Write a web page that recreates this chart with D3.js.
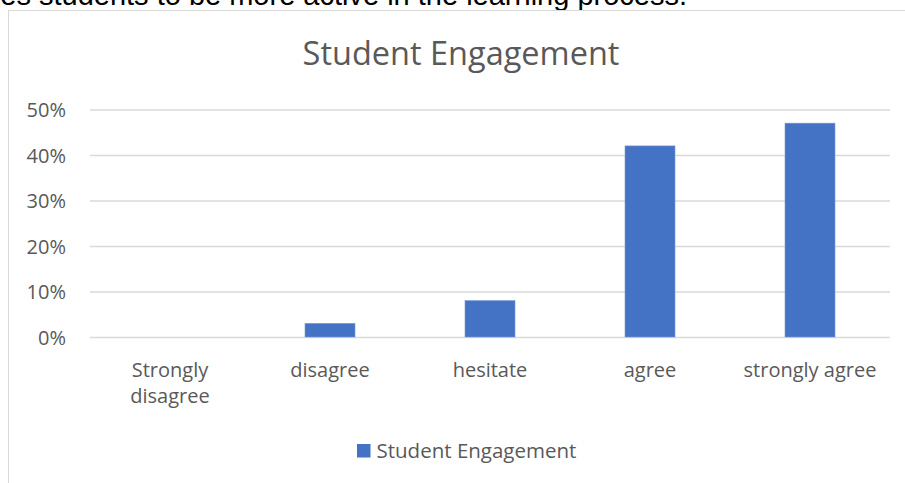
<!DOCTYPE html>
<html>
<head>
<meta charset="utf-8">
<script src="https://cdn.jsdelivr.net/npm/d3@7"></script>
<style>
  html, body { margin: 0; padding: 0; background: #fff; }
  svg { display: block; }
</style>
</head>
<body>
<svg id="chart" width="905" height="483"></svg>
<script>
const categories = ["Strongly disagree", "disagree", "hesitate", "agree", "strongly agree"];
const values = [0.00, 0.03, 0.08, 0.42, 0.47];
const yTicks = [0, 0.1, 0.2, 0.3, 0.4, 0.5];
const seriesName = "Student Engagement";
const chartTitle = "Student Engagement";
const precedingText = "es students to be more active in the learning process.";

const svg = d3.select("#chart");
const W = 905, H = 483;
const font = "'Open Sans', 'Noto Sans', sans-serif";
const grey = "#595959";
const barColor = "#4472c4";

// preceding document text (cut at the top, as in the source page)
svg.append("text")
  .attr("x", 687).attr("y", 5)
  .attr("text-anchor", "end")
  .attr("font-family", "'Liberation Sans', Arial, sans-serif")
  .attr("font-size", 29)
  .attr("fill", "#000")
  .text(precedingText);

// chart frame
svg.append("rect")
  .attr("x", 8.5).attr("y", 10.5)
  .attr("width", W + 10).attr("height", H + 10)
  .attr("fill", "#fff")
  .attr("stroke", "#d9d9d9").attr("stroke-width", 1);

// title
svg.append("text")
  .attr("x", 461).attr("y", 65)
  .attr("text-anchor", "middle")
  .attr("font-family", font).attr("font-size", 32.5)
  .attr("fill", grey)
  .text(chartTitle);

const x = d3.scaleBand()
  .domain(categories)
  .range([90, 890])
  .paddingInner(0.6875)
  .paddingOuter(0.34375);

const y = d3.scaleLinear().domain([0, 0.5]).range([337, 109.5]);

// gridlines + tick labels
const yAxis = d3.axisLeft(y)
  .tickValues(yTicks)
  .tickFormat(d3.format(".0%"))
  .tickSize(-800)
  .tickPadding(24);

const gy = svg.append("g").attr("transform", "translate(90,0)").call(yAxis);
gy.select(".domain").remove();
gy.selectAll(".tick line").attr("stroke", "#d9d9d9").attr("stroke-width", 1.3);
gy.selectAll(".tick text")
  .attr("font-family", font).attr("font-size", 20)
  .attr("fill", grey).attr("dy", "0.36em");

// bars
svg.append("g").selectAll("rect")
  .data(categories.map((c, i) => ({ c, v: values[i] })))
  .join("rect")
  .attr("x", d => x(d.c))
  .attr("width", x.bandwidth())
  .attr("y", d => y(d.v))
  .attr("height", d => y(0) - y(d.v))
  .attr("fill", barColor)
  .attr("stroke", "#7a9bd8").attr("stroke-width", 0.6);

// category labels with wrapping
const xAxisG = svg.append("g");
categories.forEach(c => {
  const cx = x(c) + x.bandwidth() / 2;
  const t = xAxisG.append("text")
    .attr("x", cx).attr("y", 376.5)
    .attr("text-anchor", "middle")
    .attr("font-family", font).attr("font-size", 20)
    .attr("fill", grey);
  const words = c.split(" ");
  let line = [];
  let tspan = t.append("tspan").attr("x", cx).attr("dy", 0);
  words.forEach(w => {
    line.push(w);
    tspan.text(line.join(" "));
    if (tspan.node().getComputedTextLength() > 150 && line.length > 1) {
      line.pop();
      tspan.text(line.join(" "));
      line = [w];
      tspan = t.append("tspan").attr("x", cx).attr("dy", 26.6).text(w);
    }
  });
});

// legend
const lg = svg.append("g");
lg.append("rect")
  .attr("x", 357).attr("y", 444)
  .attr("width", 13.5).attr("height", 13.5)
  .attr("fill", barColor);
lg.append("text")
  .attr("x", 376.5).attr("y", 458)
  .attr("font-family", font).attr("font-size", 20.5)
  .attr("fill", grey)
  .text(seriesName);
</script>
</body>
</html>
